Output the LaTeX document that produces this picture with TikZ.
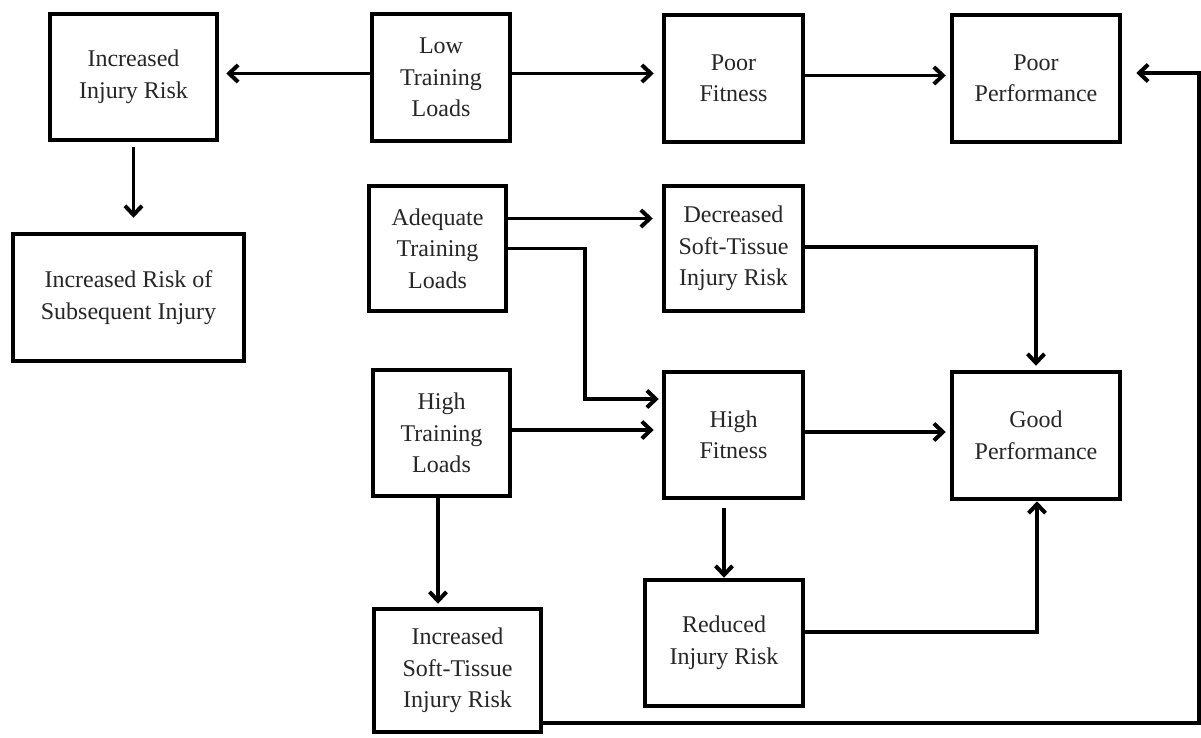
\documentclass[tikz,border=0pt]{standalone}
\usepackage{fontspec}
\setmainfont{Liberation Serif}
\usetikzlibrary{arrows.meta}
\begin{document}
\begin{tikzpicture}[x=1pt,y=-1pt,
  box/.style={draw=black,line width=4.5pt,rectangle,align=center,inner sep=0pt,
    font=\fontsize{24pt}{31.5pt}\selectfont,text=black!85},
  arr/.style={line width=3.5pt,-{Straight Barb[length=9pt,width=17pt,line width=4pt]}},
  arrt/.style={line width=4.5pt,-{Straight Barb[length=9pt,width=17pt,line width=4pt]}}]
\useasboundingbox (0,0) rectangle (1201,737);
\fill[white] (0,0) rectangle (1201,737);
\node[box,minimum width=167pt,minimum height=126pt] (iir) at (133.5,77) {Increased\\Injury Risk};
\node[box,minimum width=138pt,minimum height=127pt] (ltl) at (441,77.5) {Low\\Training\\Loads};
\node[box,minimum width=139pt,minimum height=127pt] (pf) at (733.5,78.5) {Poor\\Fitness};
\node[box,minimum width=168pt,minimum height=127pt] (pp) at (1036,78.5) {Poor\\Performance};
\node[box,minimum width=231pt,minimum height=127pt] (risi) at (128.5,297.5) {Increased Risk of\\Subsequent Injury};
\node[box,minimum width=137pt,minimum height=125pt] (atl) at (437.5,248.5) {Adequate\\Training\\Loads};
\node[box,minimum width=139pt,minimum height=125pt] (dst) at (733.5,248.5) {Decreased\\Soft-Tissue\\Injury Risk};
\node[box,minimum width=137pt,minimum height=126pt] (htl) at (441.5,433) {High\\Training\\Loads};
\node[box,minimum width=139pt,minimum height=126pt] (hf) at (733.5,435) {High\\Fitness};
\node[box,minimum width=168pt,minimum height=127pt] (gp) at (1036,435.5) {Good\\Performance};
\node[box,minimum width=167pt,minimum height=123pt] (ist) at (457.5,670.5) {Increased\\Soft-Tissue\\Injury Risk};
\node[box,minimum width=158pt,minimum height=126pt] (rir) at (724,643) {Reduced\\Injury Risk};
% connectors
\draw[arr,shorten >=7pt] ([yshift=4pt]ltl.west) -- ([yshift=4pt]ltl.west -| iir.east);
\draw[arr,shorten >=8pt] ([yshift=4pt]ltl.east) -- ([yshift=4pt]ltl.east -| pf.west);
\draw[arr,shorten >=4pt] ([yshift=3pt]pf.east) -- ([yshift=3pt]pf.east -| pp.west);
\draw[arr,shorten >=14pt,shorten <=5pt] (iir.south) -- (iir.south |- risi.north);
\draw[arr,shorten >=9pt] ([yshift=30pt]atl.east) -- ([yshift=30pt]atl.east -| dst.west);
\coordinate (a1) at (585,248.5);
\coordinate (a2) at (585,399);
\draw[arr,shorten >=3pt,line join=miter] (atl.east) -- (a1) -- (a2) -- ([yshift=36pt]hf.west);
\draw[arr,shorten >=8pt] ([yshift=3pt]htl.east) -- ([yshift=3pt]htl.east -| hf.west);
\draw[arr,shorten >=4pt] ([yshift=3pt]hf.east) -- ([yshift=3pt]hf.east -| gp.west);
\draw[arr,shorten >=4pt,line join=miter] ([yshift=1.5pt]dst.east) -| (gp.north);
\draw[arr,shorten >=3pt] ([xshift=-3.5pt]htl.south) -- ([xshift=-3.5pt]htl.south |- ist.north);
\draw[arr,shorten <=8pt] (hf.south -| rir.north) -- (rir.north);
\draw[arrt,line join=miter] ([yshift=11pt]rir.east) -| ([xshift=1pt]gp.south);
\coordinate (b1) at (1199,723);
\coordinate (b2) at (1199,73);
\draw[arrt,shorten >=14pt,line join=miter] ([yshift=-52.5pt]ist.east) -- (b1) -- (b2) -- (b2 -| pp.east);
\end{tikzpicture}
\end{document}
